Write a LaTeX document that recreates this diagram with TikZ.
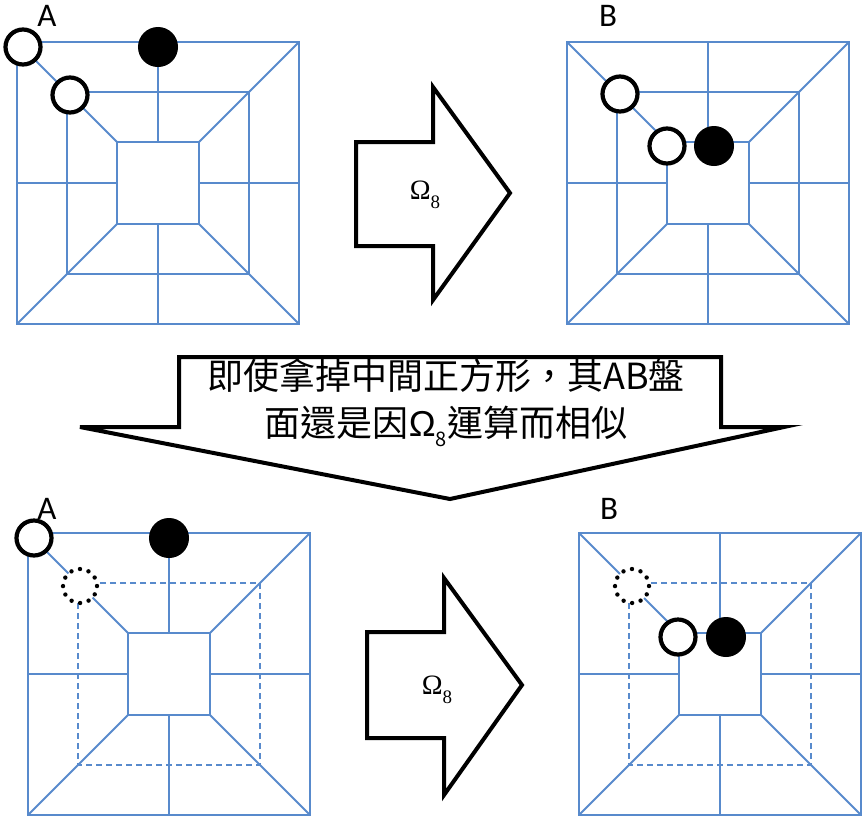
\documentclass[tikz,border=0pt]{standalone}
\usepackage{fontspec}
\setmainfont{Carlito}
\newfontfamily\cjk{Noto Sans CJK TC}
\newfontfamily\grk{Liberation Sans}
\newfontfamily\omserif{Liberation Serif}
\definecolor{boardblue}{RGB}{88,138,204}
\tikzset{
  gridline/.style={draw=boardblue, line width=2pt},
  midsq/.style={},
  dashsq/.style={dash pattern=on 6pt off 4pt},
  wstone/.style={circle, draw=black, fill=white, line width=4.2pt, minimum size=35pt, inner sep=0pt},
  bstone/.style={circle, draw=black, fill=black, line width=1pt, minimum size=39pt, inner sep=0pt},
  ghost/.style={circle, draw=black, fill=white, line width=4.4pt, line cap=round, dash pattern=on 0pt off 8.9pt, minimum size=34pt, inner sep=0pt},
  bigarrow/.style={draw=black, fill=white, line width=4pt, line join=miter},
  boardlabel/.style={font=\fontsize{33}{36}\selectfont, inner sep=0pt},
  omegalabel/.style={font=\omserif\fontsize{28}{32}\selectfont, inner sep=0pt},
  cjktext/.style={font=\cjk\fontsize{36}{40}\selectfont, inner sep=0pt}
}
\newcommand{\omegaeight}{Ω\raisebox{-0.3em}{\fontsize{19}{19}\selectfont 8}}
\newcommand{\drawboard}[3]{%
  \begin{scope}[shift={(#1,#2)}]
    \draw[gridline] (-141,-141) rectangle (141,141);
    \draw[gridline,#3] (-91,-91) rectangle (91,91);
    \draw[gridline] (-41,-41) rectangle (41,41);
    \foreach \sx/\sy in {1/1,1/-1,-1/1,-1/-1}
      \draw[gridline] (\sx*141,\sy*141) -- (\sx*41,\sy*41);
    \draw[gridline] (0,-141) -- (0,-41);
    \draw[gridline] (0,141) -- (0,41);
    \draw[gridline] (-141,0) -- (-41,0);
    \draw[gridline] (141,0) -- (41,0);
  \end{scope}}
\begin{document}
\begin{tikzpicture}[x=1pt,y=-1pt]
\useasboundingbox (0,0) rectangle (864,817);
% boards
\drawboard{158}{183}{midsq}
\drawboard{708}{183}{midsq}
\drawboard{169}{674}{dashsq}
\drawboard{720}{674}{dashsq}
% labels
\node[boardlabel] (la1) at (47,16) {A};
\node[boardlabel] (lb1) at (608,16) {B};
\node[boardlabel] (la2) at (47,509) {A};
\node[boardlabel] (lb2) at (609,509) {B};
% stones top A
\node[wstone] (a1w1) at (23,47) {};
\node[wstone] (a1w2) at (70,95) {};
\node[bstone] (a1b) at (158,47) {};
% stones top B
\node[wstone] (b1w1) at (620,94) {};
\node[wstone] (b1w2) at (667,146) {};
\node[bstone] (b1b) at (714,146) {};
% stones bottom A
\node[wstone] (a2w1) at (34,538) {};
\node[ghost] (a2g) at (80,586) {};
\node[bstone] (a2b) at (169,538) {};
% stones bottom B
\node[ghost] (b2g) at (632,586) {};
\node[wstone] (b2w) at (678,637) {};
\node[bstone] (b2b) at (726,637) {};
% top arrow
\draw[bigarrow] (356,142) -- (433,142) -- (433,87) -- (510,193) -- (433,300) -- (433,246) -- (356,246) -- cycle;
\node[omegalabel] (om1) at (425,195) {\omegaeight};
% bottom arrow
\draw[bigarrow] (367,632) -- (444,632) -- (444,578) -- (522,685) -- (444,795) -- (444,738) -- (367,738) -- cycle;
\node[omegalabel] (om2) at (437,690) {\omegaeight};
% middle arrow
\draw[bigarrow] (179,357) -- (721,357) -- (721,427) -- (784,427) -- (450,499) -- (80,427) -- (179,427) -- cycle;
\node[cjktext] (t1) at (446,376) {即使拿掉中間正方形，其AB盤};
\node[cjktext] (t2) at (446,426) {面還是因{\grk Ω}\raisebox{-0.28em}{\fontsize{20}{20}\selectfont 8}運算而相似};
\end{tikzpicture}
\end{document}
